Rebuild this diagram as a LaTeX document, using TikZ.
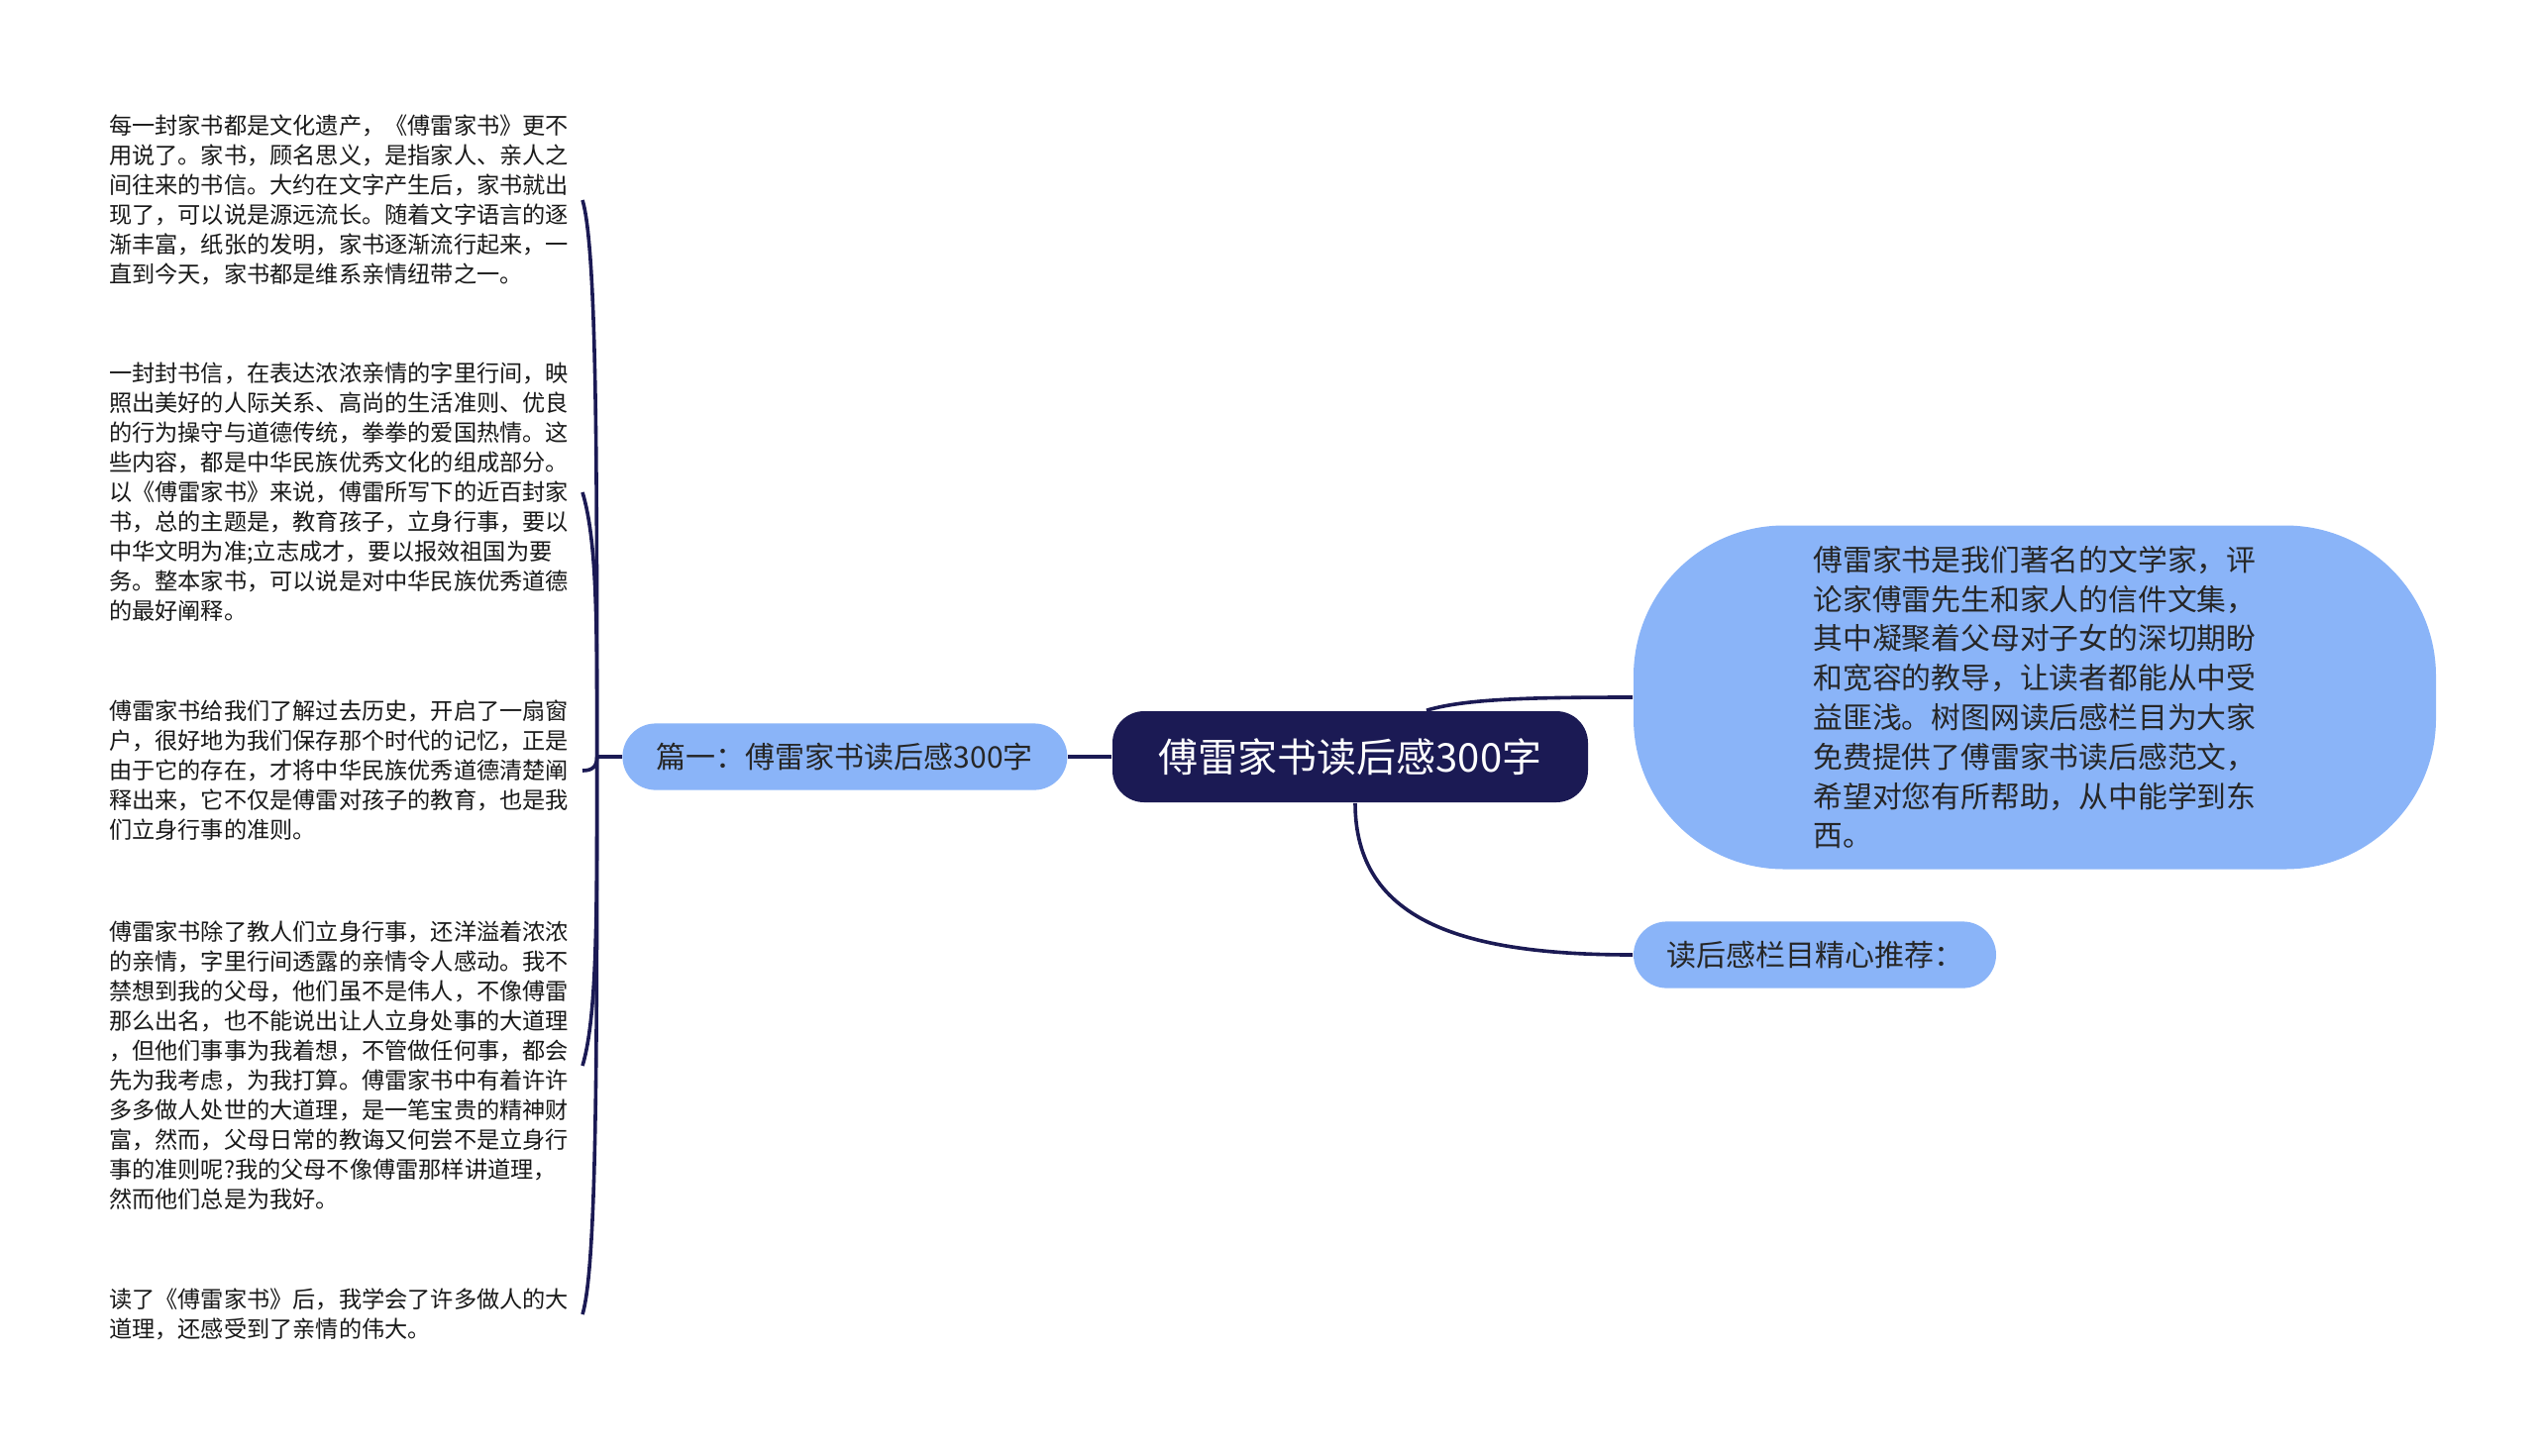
\documentclass[tikz,border=0pt]{standalone}
\usepackage{fontspec}
\setmainfont{Noto Sans CJK SC}
\usetikzlibrary{positioning,calc}
\definecolor{navy}{HTML}{1B1A54}
\definecolor{skyblue}{HTML}{8AB4F8}

\begin{document}
\begin{tikzpicture}[x=0.25pt, y=-0.25pt, every node/.style={inner sep=0pt,align=center},
  root/.style={fill=navy,text=white,rounded corners=8pt,minimum width=120pt,minimum height=23pt,font=\fontsize{10pt}{12pt}\selectfont},
  topic/.style={fill=skyblue,text=black!85,rounded corners=8.4pt,minimum height=16.8pt,font=\fontsize{7.5pt}{9pt}\selectfont},
  leaf/.style={anchor=east,align=left,inner xsep=3.25pt,text=black!90,font=\fontsize{5.8pt}{7.5pt}\selectfont},
  conn/.style={draw=navy,line width=0.9pt}]
\fill[white] (0,0) rectangle (2560,1469);
\useasboundingbox (0,0) rectangle (2560,1469);
\node[root] (root) at (1363,764) {傅雷家书读后感300字};
\node[topic,minimum width=112.25pt,left=11pt of root] (p1) {篇一：傅雷家书读后感300字};
\node[topic,minimum width=202.5pt,minimum height=86.75pt,rounded corners=38pt,align=left,font=\fontsize{7.45pt}{9.95pt}\selectfont] (intro) at (2054,704) {傅雷家书是我们著名的文学家，评\\论家傅雷先生和家人的信件文集，\\其中凝聚着父母对子女的深切期盼\\和宽容的教导，让读者都能从中受\\益匪浅。树图网读后感栏目为大家\\免费提供了傅雷家书读后感范文，\\希望对您有所帮助，从中能学到东\\西。};
\node[topic,minimum width=91.5pt] (rec) at (1832,964) {读后感栏目精心推荐：};
\coordinate[left=6.25pt of p1] (J);
\node[leaf] (t1) at (588,202) {每一封家书都是文化遗产，《傅雷家书》更不\\用说了。家书，顾名思义，是指家人、亲人之\\间往来的书信。大约在文字产生后，家书就出\\现了，可以说是源远流长。随着文字语言的逐\\渐丰富，纸张的发明，家书逐渐流行起来，一\\直到今天，家书都是维系亲情纽带之一。};
\node[leaf] (t2) at (588,497) {一封封书信，在表达浓浓亲情的字里行间，映\\照出美好的人际关系、高尚的生活准则、优良\\的行为操守与道德传统，拳拳的爱国热情。这\\些内容，都是中华民族优秀文化的组成部分。\\以《傅雷家书》来说，傅雷所写下的近百封家\\书，总的主题是，教育孩子，立身行事，要以\\中华文明为准;立志成才，要以报效祖国为要\\务。整本家书，可以说是对中华民族优秀道德\\的最好阐释。};
\node[leaf] (t3) at (588,778) {傅雷家书给我们了解过去历史，开启了一扇窗\\户，很好地为我们保存那个时代的记忆，正是\\由于它的存在，才将中华民族优秀道德清楚阐\\释出来，它不仅是傅雷对孩子的教育，也是我\\们立身行事的准则。};
\node[leaf] (t4) at (588,1076) {傅雷家书除了教人们立身行事，还洋溢着浓浓\\的亲情，字里行间透露的亲情令人感动。我不\\禁想到我的父母，他们虽不是伟人，不像傅雷\\那么出名，也不能说出让人立身处事的大道理\\，但他们事事为我着想，不管做任何事，都会\\先为我考虑，为我打算。傅雷家书中有着许许\\多多做人处世的大道理，是一笔宝贵的精神财\\富，然而，父母日常的教诲又何尝不是立身行\\事的准则呢?我的父母不像傅雷那样讲道理，\\然而他们总是为我好。};
\node[leaf] (t5) at (588,1327) {读了《傅雷家书》后，我学会了许多做人的大\\道理，还感受到了亲情的伟大。};
\draw[conn] (root)--(p1);\draw[conn] (p1)--(J);
\draw[conn] (J) .. controls ($(J)!.5!(J |- t1.east)$) and ($(t1.east)+(15,50)$) .. (t1.east);
\draw[conn] (J) .. controls ($(J)!.5!(J |- t2.east)$) and ($(t2.east)+(15,50)$) .. (t2.east);
\draw[conn] (J) .. controls ($(J)+(0,10)$) and ($(t3.east)+(10,0)$) .. (t3.east);
\draw[conn] (J) .. controls ($(J)!.5!(J |- t4.east)$) and ($(t4.east)+(15,-50)$) .. (t4.east);
\draw[conn] (J) .. controls ($(J)!.5!(J |- t5.east)$) and ($(t5.east)+(15,-50)$) .. (t5.east);
\draw[conn] ($(root.north)+(77,0)$) .. controls +(40,-12) and +(-100,0) .. (intro.west);
\draw[conn] ($(root.south)+(5,0)$) .. controls +(0,120) and +(-170,0) .. (rec.west);
\end{tikzpicture}
\end{document}
